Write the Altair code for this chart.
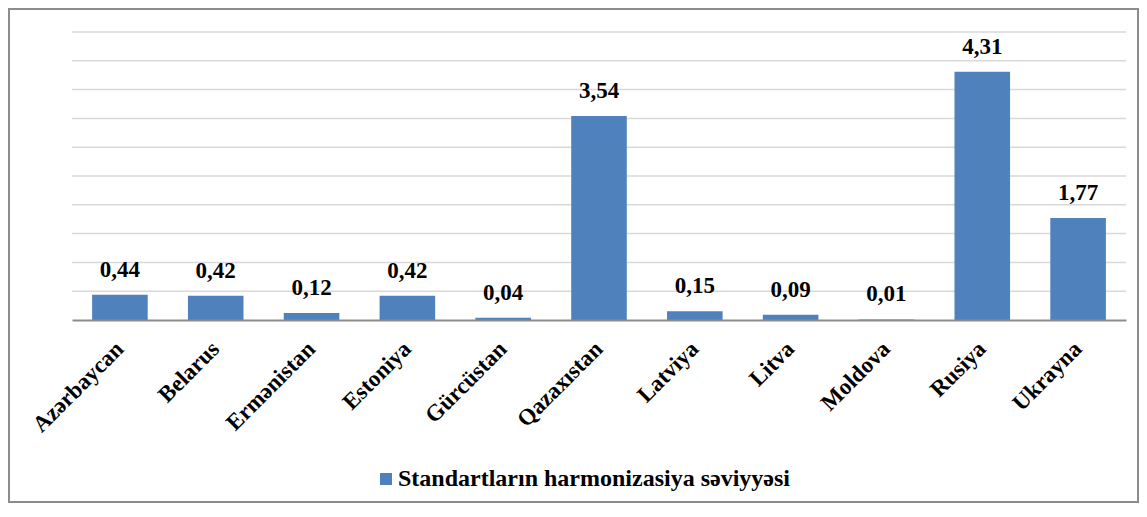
import altair as alt
import pandas as pd

countries = ["Azərbaycan", "Belarus", "Ermənistan", "Estoniya", "Gürcüstan",
             "Qazaxıstan", "Latviya", "Litva", "Moldova", "Rusiya", "Ukrayna"]
values = [0.44, 0.42, 0.12, 0.42, 0.04, 3.54, 0.15, 0.09, 0.01, 4.31, 1.77]
series = "Standartların harmonizasiya səviyyəsi"
grid_values = [0.5, 1.0, 1.5, 2.0, 2.5, 3.0, 3.5, 4.0, 4.5, 5.0]

df = pd.DataFrame({"country": countries, "value": values, "series": series})
gdf = pd.DataFrame({"g": grid_values})

FONT = "Liberation Serif"
W, H = 1054, 288

yscale = alt.Scale(domain=[0, 5], nice=False)

x = alt.X("country:N", sort=countries, title=None,
          scale=alt.Scale(paddingInner=0.42, paddingOuter=0.21),
          axis=alt.Axis(labelAngle=-45, labelAlign="right", labelBaseline="middle",
                        labelFont=FONT, labelFontSize=23, labelFontWeight="bold",
                        labelColor="black", labelPadding=25, ticks=False,
                        domainColor="#8c8c8c", domainWidth=2, zindex=2))

grid = alt.Chart(gdf).mark_rule(color="#d9d9d9", strokeWidth=1.5).encode(
    y=alt.Y("g:Q", scale=yscale, axis=None),
)

bars = alt.Chart(df).mark_bar(color="#4f81bd").encode(
    x=x,
    y=alt.Y("value:Q", title=None, scale=yscale, axis=None),
    color=alt.Color("series:N", scale=alt.Scale(range=["#4f81bd"]), title=None,
                    legend=alt.Legend(orient="none", legendX=302, legendY=435,
                                      symbolType="square", symbolSize=144,
                                      symbolStrokeWidth=0,
                                      labelFont=FONT, labelFontSize=24,
                                      labelFontWeight="bold", labelColor="black",
                                      labelLimit=0, labelOffset=0)),
)

labels = alt.Chart(df).transform_calculate(
    lab="replace(format(datum.value, '.2f'), '.', ',')"
).mark_text(font=FONT, fontSize=23, fontWeight="bold", color="black",
            baseline="alphabetic", dy=-18).encode(
    x=alt.X("country:N", sort=countries),
    y=alt.Y("value:Q", scale=yscale),
    text="lab:N",
)

frame = alt.Chart(df).mark_rect(fill=None, stroke="#8c8c8c", strokeWidth=2,
                                clip=False).encode(
    x=alt.value(-63), x2=alt.value(1066), y=alt.value(-23), y2=alt.value(470)
).transform_filter("datum.country == 'Azərbaycan'")

chart = alt.layer(frame, grid, bars, labels).properties(
    width=W, height=H,
    autosize=alt.AutoSizeParams(type="none"),
    padding={"left": 64, "top": 24, "right": 13, "bottom": 184},
).configure_view(stroke=None)

chart.save("out.html", embed_options={"renderer": "svg", "actions": False})
